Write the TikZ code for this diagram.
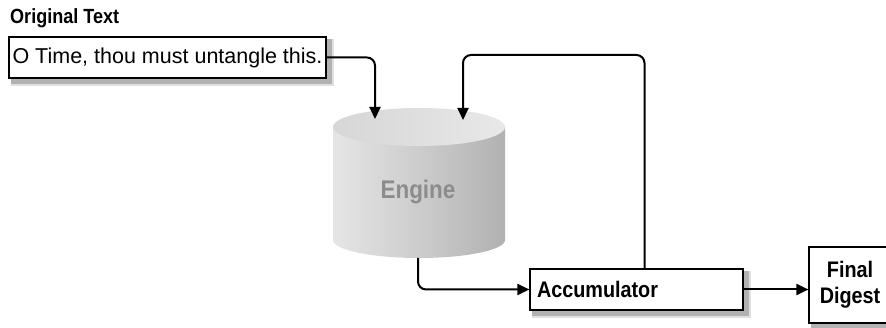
\documentclass[tikz,border=0pt]{standalone}
\usepackage{fontspec}
\setmainfont{Liberation Sans}
\newfontfamily\narrowfont[FakeStretch=0.88]{Liberation Sans}
\usetikzlibrary{positioning}
\usetikzlibrary{arrows.meta}
\usetikzlibrary{backgrounds}
\pgfdeclarehorizontalshading{enginebody}{100bp}{color(0bp)=(black!32); color(20bp)=(black!8); color(60bp)=(black!24); color(100bp)=(black!42)}
\tikzset{
    flow/.style = {-{Triangle[length=12pt,width=11pt]},line width=2pt,rounded corners=8pt},
    boxed/.style = {rectangle, draw=black, line width=1.2pt, fill=white},
    boxshadow/.style = {fill=black!#1, draw=none},
    heading/.style = {font=\narrowfont\fontsize{20.5}{22}\selectfont\bfseries},
    plaintext/.style = {font=\fontsize{21.5}{24}\selectfont},
    tagtext/.style = {font=\narrowfont\fontsize{22.5}{26}\selectfont\bfseries},
}

\begin{document}
\begin{tikzpicture}[x=1pt,y=-1pt]
  \useasboundingbox (0,0) rectangle (886,328);

  \node[heading,anchor=west,inner sep=0pt] at (10,18) (title) {Original Text};
  \node[boxed,plaintext,minimum width=317pt,minimum height=41pt,inner sep=1pt] at (167.5,57.5) (txt) {O Time, thou must untangle this.};

  % engine drum
  \shade[shading=enginebody] (333,127) rectangle (505,240);
  \shade[shading=enginebody] (419,240) ellipse [x radius=86, y radius=18];
  \shade[left color=black!16, right color=black!9] (419,127) ellipse [x radius=86, y radius=19];
  \node[font=\narrowfont\fontsize{25.5}{27}\selectfont\bfseries, text=black!45] at (418,192) (engine) {Engine};
  \coordinate (in1) at (375,119);
  \coordinate (in2) at (463,120);
  \coordinate (loop) at (463,55);
  \coordinate (out) at (418,258);

  \node[boxed,tagtext,minimum width=213pt,minimum height=41pt,text width=199pt,inner sep=6pt,align=left] at (636.5,289.5) (acc) {Accumulator};
  \node[boxed,tagtext,minimum width=82pt,minimum height=76pt,align=center,inner sep=2pt] at (850,285) (final) {Final\\Digest};

  % soft shadows behind the boxes
  \begin{scope}[on background layer]
    \foreach \n in {txt,acc,final} {
      \fill[boxshadow=12] ([shift={(3pt,-7pt)}]\n.south west) rectangle ([shift={(7pt,-3pt)}]\n.north east);
      \fill[boxshadow=30] ([shift={(3pt,-5pt)}]\n.south west) rectangle ([shift={(5pt,-3pt)}]\n.north east);
    }
  \end{scope}

  \draw[flow] (txt.east) -| (in1);
  \draw[flow] ([xshift=8pt]acc.north) |- (loop) -- (in2);
  \draw[flow] (out) |- (acc.west);
  \draw[flow] (acc.east) -- (final.west |- acc.east);

\end{tikzpicture}
\end{document}
